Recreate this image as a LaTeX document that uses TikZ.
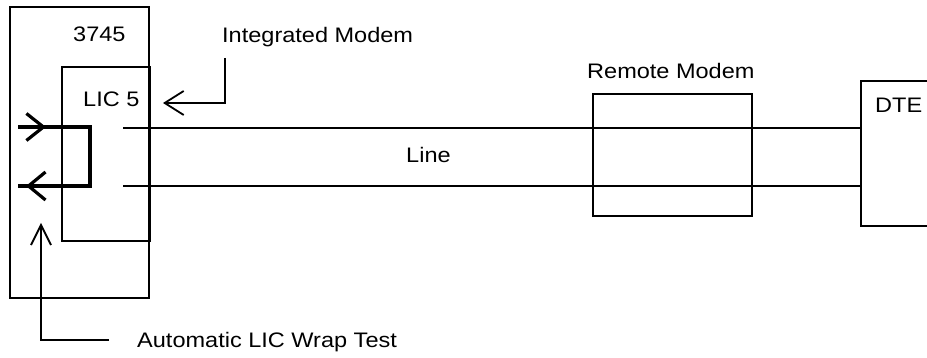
\documentclass[tikz,border=0pt]{standalone}
\usepackage{fontspec}
\setmainfont{Liberation Sans}[FakeStretch=1.12]
\usetikzlibrary{arrows.meta}
\tikzset{
  box/.style={draw, line width=1.7pt, rectangle, inner sep=0pt, outer sep=0pt, anchor=north west},
  lbl/.style={inner sep=0pt, anchor=base west, font=\fontsize{21}{24}\selectfont},
  wire/.style={line width=1.4pt},
  wrap/.style={line width=3.2pt},
  pointer/.style={line width=1.8pt},
}
\begin{document}
\begin{tikzpicture}[x=1pt, y=-1pt]
\useasboundingbox (0,0) rectangle (927,358);
% boxes
\node[box, minimum width=139pt, minimum height=291pt] (b3745) at (10,7) {};
\node[box, minimum width=88pt, minimum height=174pt] (lic) at (62,67) {};
\node[box, minimum width=159pt, minimum height=122pt] (remote) at (593,94) {};
\draw[line width=1.7pt] (930,81) -- (861,81) coordinate (dtetop) -- (861,226) coordinate (dtebot) -- (930,226);
% labels
\node[lbl] (t3745) at (73,42) {3745};
\node[lbl] (tlic) at (83,107) {LIC 5};
\node[lbl] (tint) at (222,43) {Integrated Modem};
\node[lbl] (tline) at (406,163) {Line};
\node[lbl] (trem) at (587,79) {Remote Modem};
\node[lbl] (tdte) at (875,113) {DTE};
\node[lbl] (tauto) at (137,347) {Automatic LIC Wrap Test};
% lines
\coordinate (l1a) at (123,128);
\coordinate (l2a) at (123,186);
\draw[wire] (l1a) -- (l1a -| dtetop);
\draw[wire] (l2a) -- (l2a -| dtetop);
% wrap loop
\coordinate (w1) at (18,127);
\coordinate (w2) at (90,127);
\coordinate (w3) at (90,186);
\coordinate (w4) at (18,186);
\draw[wrap, line join=miter] (w1) -- (w2) -- (w3) -- (w4);
\draw[wrap, -{Straight Barb[length=17pt,width=27pt]}] (w1) -- (46,127);
\draw[wrap, -{Straight Barb[length=17pt,width=28pt]}] (w3) -- (26,186);
% pointers
\coordinate (ip) at (225,58);
\coordinate (it) at (163,103);
\draw[pointer, -{Straight Barb[length=19pt,width=24pt]}] (ip) |- (it);
\coordinate (ap) at (109,340);
\coordinate (at2) at (41,223);
\draw[pointer, -{Straight Barb[length=20pt,width=20pt]}] (ap) -| (at2);
\end{tikzpicture}
\end{document}
